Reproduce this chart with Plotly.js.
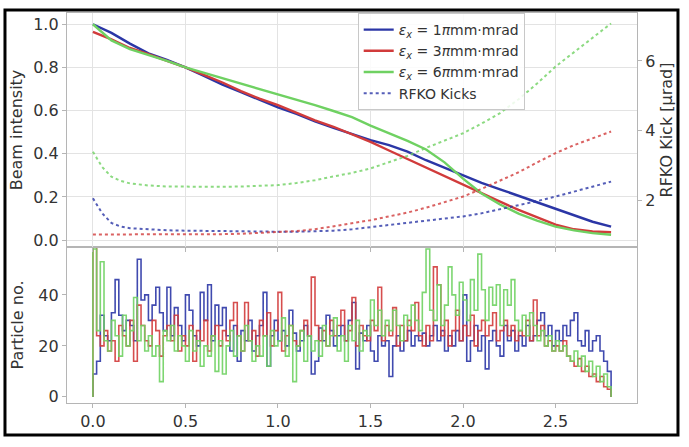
<!DOCTYPE html>
<html>
<head>
<meta charset="utf-8">
<script src="https://cdn.plot.ly/plotly-3.0.1.min.js"></script>
<style>html,body{margin:0;padding:0;background:#fff;}#chart{width:689px;height:447px;}</style>
</head>
<body>
<div id="chart"></div>
<script>
// ---- Beam intensity (top panel, left axis) ----
const turnsX = [0,0.1,0.2,0.3,0.4,0.5,0.6,0.7,0.8,0.9,1.0,1.1,1.2,1.3,1.4,1.5,1.6,1.7,1.8,1.9,2.0,2.1,2.2,2.3,2.4,2.5,2.6,2.7,2.8];
const intensity1 = [1.00,0.96,0.91,0.865,0.835,0.80,0.76,0.72,0.685,0.65,0.615,0.585,0.55,0.52,0.49,0.463,0.44,0.41,0.37,0.335,0.30,0.265,0.235,0.205,0.175,0.145,0.115,0.085,0.062];
const intensity3 = [0.965,0.93,0.89,0.862,0.83,0.80,0.765,0.73,0.69,0.655,0.625,0.59,0.555,0.525,0.49,0.455,0.415,0.375,0.335,0.295,0.255,0.215,0.178,0.14,0.105,0.072,0.05,0.04,0.036];
const intensity6 = [1.00,0.925,0.885,0.858,0.83,0.80,0.775,0.75,0.725,0.70,0.678,0.652,0.625,0.598,0.57,0.53,0.495,0.46,0.42,0.36,0.285,0.216,0.165,0.123,0.09,0.062,0.045,0.032,0.025];

// ---- RFKO kicks (top panel, right axis) ----
const kickX = [0,0.05,0.1,0.15,0.2,0.3,0.4,0.5,0.6,0.7,0.8,0.9,1.0,1.1,1.2,1.3,1.4,1.5,1.6,1.7,1.8,1.9,2.0,2.1,2.2,2.3,2.4,2.5,2.6,2.7,2.8];
const kick1 = [2.05,1.62,1.34,1.24,1.19,1.15,1.13,1.12,1.11,1.10,1.09,1.09,1.09,1.09,1.10,1.12,1.16,1.22,1.28,1.34,1.41,1.47,1.53,1.62,1.73,1.85,1.97,2.10,2.25,2.38,2.53];
const kick3 = [1.01,1.01,1.0,1.0,1.0,1.0,1.0,1.0,1.01,1.02,1.03,1.05,1.07,1.11,1.16,1.24,1.33,1.42,1.53,1.64,1.78,1.93,2.10,2.32,2.55,2.80,3.08,3.35,3.58,3.78,3.97];
const kick6 = [3.39,2.95,2.67,2.55,2.48,2.42,2.39,2.38,2.38,2.38,2.39,2.41,2.43,2.49,2.57,2.68,2.78,2.91,3.08,3.27,3.50,3.70,3.92,4.20,4.50,4.90,5.35,5.84,6.25,6.68,7.08];

// ---- Extracted particle histograms (bottom panel) ----
const binWidth = 0.02;
const hist1 = [9,14,32,24,22, 33,46,32,26,30, 28,22,54,38,40, 30,36,43,33,26, 43,24,35,28,22, 40,34,24,20,41, 30,44,22,36,28,
  35,24,18,28,14, 26,22,30,18,24, 28,41,12,24,30, 22,26,20,34,25, 18,22,28,24,9, 14,27,22,32,26, 20,24,28,22,30, 37,11,25,22,28,
  18,14,24,20,22, 8,20,24,18,22, 26,20,24,22,25, 20,24,28,22,26, 18,24,20,26,22, 40,14,22,28,18, 24,11,22,26,20,
  16,28,22,26,18, 24,20,28,22,24, 30,33,24,28,20, 26,22,28,24,30, 33,22,20,26,18, 22,24,18,14,10];
const hist3 = [59,24,20,26,18, 22,14,28,24,20, 30,14,36,28,22, 20,30,26,16,24, 28,22,32,18,24, 20,28,14,26,22, 30,18,24,28,20,
  26,22,30,37,24, 18,37,22,26,16, 30,24,33,20,26, 41,18,24,28,22, 20,26,30,24,47, 28,22,26,20,30, 24,28,34,22,26, 39,20,28,24,22,
  30,26,43,22,28, 24,35,20,28,22, 30,26,37,24,20, 28,22,51,44,24, 30,20,26,34,22, 28,24,32,20,26, 30,24,28,33,22,
  26,30,24,28,22, 26,24,30,22,38, 24,28,20,22,18, 20,18,22,16,14, 12,15,10,12,8, 9,6,8,4,3];
const hist6 = [58,26,53,22,18, 30,24,16,32,20, 26,39,22,28,18, 24,16,20,6,26, 22,28,18,24,20, 14,26,18,22,12, 20,16,24,10,22,
  9,20,26,16,24, 18,28,22,14,20, 16,24,12,26,20, 22,31,16,28,6, 20,26,14,24,18, 22,16,28,20,24, 31,18,24,14,28, 22,30,18,26,24,
  38,28,34,24,30, 26,34,28,22,32, 28,36,30,26,41, 58,34,30,44,28, 36,51,40,32,45, 38,30,46,34,56, 42,30,43,36,44,
  28,42,36,46,30, 26,32,24,33,28, 22,26,20,24,18, 22,18,20,16,14, 18,12,16,10,14, 8,12,6,9,4];

const legendNames = [
  '<i>ε</i><sub><i>x</i></sub> = 1<i>π</i>mm·mrad',
  '<i>ε</i><sub><i>x</i></sub> = 3<i>π</i>mm·mrad',
  '<i>ε</i><sub><i>x</i></sub> = 6<i>π</i>mm·mrad',
  'RFKO Kicks'
];
const colors = ['#2b36a6', '#d13b3b', '#6fd162'];

function stepTrace(vals, color) {
  const xs = [0], ys = [0];
  for (let i = 0; i < vals.length; i++) { xs.push(i * binWidth); ys.push(vals[i]); }
  xs.push(vals.length * binWidth); ys.push(vals[vals.length - 1]);
  xs.push(vals.length * binWidth); ys.push(0);
  return {x: xs, y: ys, type: 'scatter', mode: 'lines', line: {shape: 'hv', color: color, width: 1.6},
          opacity: 0.9, xaxis: 'x', yaxis: 'y3', showlegend: false, hoverinfo: 'skip'};
}

const traces = [
  {x: turnsX, y: intensity1, name: legendNames[0], type: 'scatter', mode: 'lines', line: {color: colors[0], width: 2.4}, xaxis: 'x2', yaxis: 'y'},
  {x: turnsX, y: intensity3, name: legendNames[1], type: 'scatter', mode: 'lines', line: {color: colors[1], width: 2.4}, xaxis: 'x2', yaxis: 'y'},
  {x: turnsX, y: intensity6, name: legendNames[2], type: 'scatter', mode: 'lines', line: {color: colors[2], width: 2.4}, xaxis: 'x2', yaxis: 'y'},
  {x: kickX, y: kick1, name: legendNames[3], type: 'scatter', mode: 'lines', line: {color: colors[0], width: 2, dash: 'dot'}, opacity: 0.8, xaxis: 'x2', yaxis: 'y2'},
  {x: kickX, y: kick3, showlegend: false, type: 'scatter', mode: 'lines', line: {color: colors[1], width: 2, dash: 'dot'}, opacity: 0.8, xaxis: 'x2', yaxis: 'y2'},
  {x: kickX, y: kick6, showlegend: false, type: 'scatter', mode: 'lines', line: {color: colors[2], width: 2, dash: 'dot'}, opacity: 0.8, xaxis: 'x2', yaxis: 'y2'},
  stepTrace(hist1, colors[0]),
  stepTrace(hist3, colors[1]),
  stepTrace(hist6, colors[2])
];

const axLine = '#b5b5b5';
const tickFont = {family: 'DejaVu Sans', size: 16, color: '#333'};
const layout = {
  width: 689, height: 447,
  margin: {l: 67, r: 52, t: 13, b: 44},
  paper_bgcolor: '#fff', plot_bgcolor: '#fff',
  font: {family: 'DejaVu Sans', color: '#333'},
  showlegend: true,
  legend: {x: 0.51, y: 1.0, xanchor: 'left', yanchor: 'top', bgcolor: 'rgba(255,255,255,0.85)',
           bordercolor: '#c8c8c8', borderwidth: 1, font: {family: 'DejaVu Sans', size: 14, color: '#333'},
           tracegroupgap: 0},
  xaxis: {domain: [0, 1], anchor: 'y3', range: [-0.14, 2.94], tick0: 0, dtick: 0.5, tickformat: '.1f',
          showgrid: false, zeroline: false, showline: true, mirror: true, linecolor: axLine, linewidth: 1.2,
          ticks: 'outside', ticklen: 4, tickcolor: axLine, tickfont: tickFont},
  xaxis2: {matches: 'x', anchor: 'y', range: [-0.14, 2.94], tick0: 0, dtick: 0.5, showticklabels: false,
           showgrid: true, gridcolor: '#e3e3e3', zeroline: false, showline: true, mirror: true, linecolor: axLine, linewidth: 1.2,
           ticks: 'outside', ticklen: 4, tickcolor: axLine},
  yaxis: {domain: [0.4, 1], range: [-0.032, 1.052], tick0: 0, dtick: 0.2, tickformat: '.1f',
          showgrid: true, gridcolor: '#e3e3e3', zeroline: false, showline: true, mirror: true, linecolor: axLine, linewidth: 1.2,
          ticks: 'outside', ticklen: 4, tickcolor: axLine, tickfont: tickFont,
          title: {text: 'Beam intensity', font: {family: 'DejaVu Sans', size: 16, color: '#333'}, standoff: 6}},
  yaxis2: {overlaying: 'y', side: 'right', anchor: 'x2', range: [0.65, 7.38], tickvals: [2, 4, 6],
           showgrid: false, zeroline: false, ticks: 'outside', ticklen: 4, tickcolor: axLine, tickfont: tickFont,
           title: {text: 'RFKO Kick [μrad]', font: {family: 'DejaVu Sans', size: 16, color: '#333'}, standoff: 6}},
  yaxis3: {domain: [0, 0.4], anchor: 'x', range: [-2.4, 58.8], tickvals: [0, 20, 40],
           showgrid: false, zeroline: false, showline: true, mirror: true, linecolor: axLine, linewidth: 1.2,
           ticks: 'outside', ticklen: 4, tickcolor: axLine, tickfont: tickFont,
           title: {text: 'Particle no.', font: {family: 'DejaVu Sans', size: 16, color: '#333'}, standoff: 10}},
  shapes: [
    {type: 'rect', xref: 'paper', yref: 'paper', x0: -0.1088, x1: 1.0719, y0: -0.082, y1: 1.0077,
     line: {color: '#000', width: 3}, fillcolor: 'rgba(0,0,0,0)', layer: 'above'}
  ]
};

Plotly.newPlot('chart', traces, layout, {staticPlot: true, displayModeBar: false});
</script>
</body>
</html>
